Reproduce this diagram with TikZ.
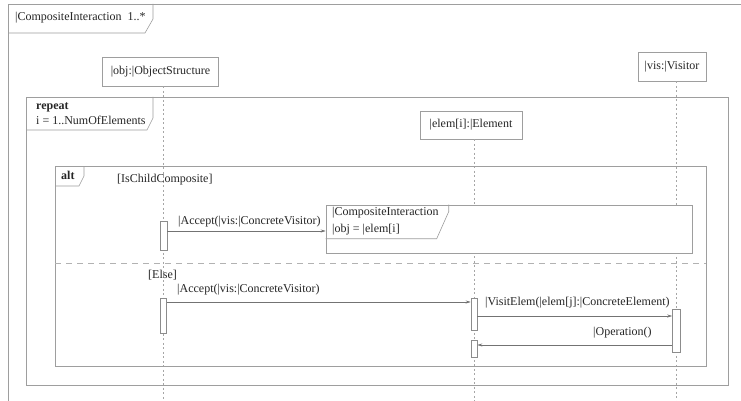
\documentclass[tikz,border=0pt]{standalone}
\usepackage{fontspec}
\setmainfont{Liberation Serif}
\usetikzlibrary{arrows.meta}
\begin{document}
\begin{tikzpicture}[x=1pt,y=-1pt,
  every node/.style={font=\fontsize{12}{14}\selectfont, text=black!85, inner sep=0pt},
  frameline/.style={draw=black!38, line width=0.6pt},
  sepline/.style={draw=black!30, line width=0.6pt, dash pattern=on 6pt off 5pt},
  lifebox/.style={draw=black!38, line width=0.6pt, fill=white},
  lifeline/.style={draw=black!35, line width=0.6pt, dash pattern=on 2pt off 2.5pt},
  actbox/.style={draw=black!45, line width=0.6pt, fill=white, inner sep=0pt},
  msg/.style={draw=black!55, line width=0.6pt, -{Stealth[length=5pt,width=3pt]}},
  lbl/.style={anchor=west},
  kw/.style={anchor=west, font=\fontsize{12}{14}\selectfont\bfseries},
]
\useasboundingbox (0,0) rectangle (741,401);
\fill[white] (0,0) rectangle (741,401);

% outer interaction frame with its name tab
\draw[frameline] (8,401) -- (8,4) -- (741,4);
\draw[frameline] (8,33) -- (145,33) -- (153,19) -- (153,4);
\node[lbl] (title) at (15,18) {|CompositeInteraction\ \ 1..*};

% lifeline heads
\node[lifebox, minimum width=115.6pt, minimum height=29pt] (obj) at (160.5,71.5) {|obj:|ObjectStructure};
\node[lifebox, minimum width=102pt, minimum height=28pt] (elem) at (471,125) {|elem[i]:|Element};
\node[lifebox, minimum width=68pt, minimum height=29pt] (vis) at (672,66.5) {|vis:|Visitor};

% lifelines
\coordinate (objEnd) at (163,401);
\coordinate (elemEnd) at (474,401);
\coordinate (visEnd) at (676.5,401);
\draw[lifeline] (obj.south -| objEnd) -- (objEnd);
\draw[lifeline] (elem.south -| elemEnd) -- (elemEnd);
\draw[lifeline] (vis.south -| visEnd) -- (visEnd);

% loop fragment
\draw[frameline] (26,97) rectangle (728,385);
\draw[frameline] (26,130) -- (147,130) -- (153,118) -- (153,97);
\node[kw] (rep) at (36,107) {repeat};
\node[lbl] (repcond) at (36,120.5) {i = 1..NumOfElements};

% alternative fragment
\draw[frameline] (55,166) rectangle (706,366);
\draw[frameline] (55,186) -- (79,186) -- (84,176) -- (84,166);
\node[kw] (alt) at (61,175.5) {alt};
\draw[sepline] (55,263) -- (706,263);
\node[lbl] (g1) at (117,180) {[IsChildComposite]};
\node[lbl] (g2) at (148,275) {[Else]};

% interaction use
\node[lifebox, minimum width=366pt, minimum height=48pt] (ref) at (509,229) {};
\draw[frameline] (ref.north west) ++(0,34) -- ++(111,0) -- ++(12,-27) -- ++(0,-7);
\node[lbl] (refname) at (332,213) {|CompositeInteraction};
\node[lbl] (refarg) at (332,229.5) {|obj = |elem[i]};

% activations
\node[actbox, minimum width=7pt, minimum height=29pt, anchor=north] (a1) at (163.5,221) {};
\node[actbox, minimum width=6.5pt, minimum height=35pt, anchor=north] (a2) at (163.5,298) {};
\node[actbox, minimum width=6pt, minimum height=32pt, anchor=north] (e1) at (474,298) {};
\node[actbox, minimum width=8pt, minimum height=43pt, anchor=north] (v1) at (676.5,309) {};
\node[actbox, minimum width=6pt, minimum height=17pt, anchor=north] (e2) at (474,340) {};

% messages
\coordinate (m1) at ([yshift=-10pt]a1.north east);
\draw[msg] (m1) -- (m1 -| ref.west);
\node[lbl] (l1) at (178,222) {|Accept(|vis:|ConcreteVisitor)};

\coordinate (m2) at ([yshift=-4pt]a2.north east);
\draw[msg] (m2) -- (m2 -| e1.west);
\node[lbl] (l2) at (177,290) {|Accept(|vis:|ConcreteVisitor)};

\coordinate (m3) at ([yshift=-18pt]e1.north east);
\draw[msg] (m3) -- (m3 -| v1.west);
\node[lbl] (l3) at (485,303) {|VisitElem(|elem[j]:|ConcreteElement)};

\coordinate (m4) at ([yshift=-36pt]v1.north west);
\draw[msg] (m4) -- (m4 -| e2.east);
\node[lbl] (l4) at (593,333) {|Operation()};
\end{tikzpicture}
\end{document}
